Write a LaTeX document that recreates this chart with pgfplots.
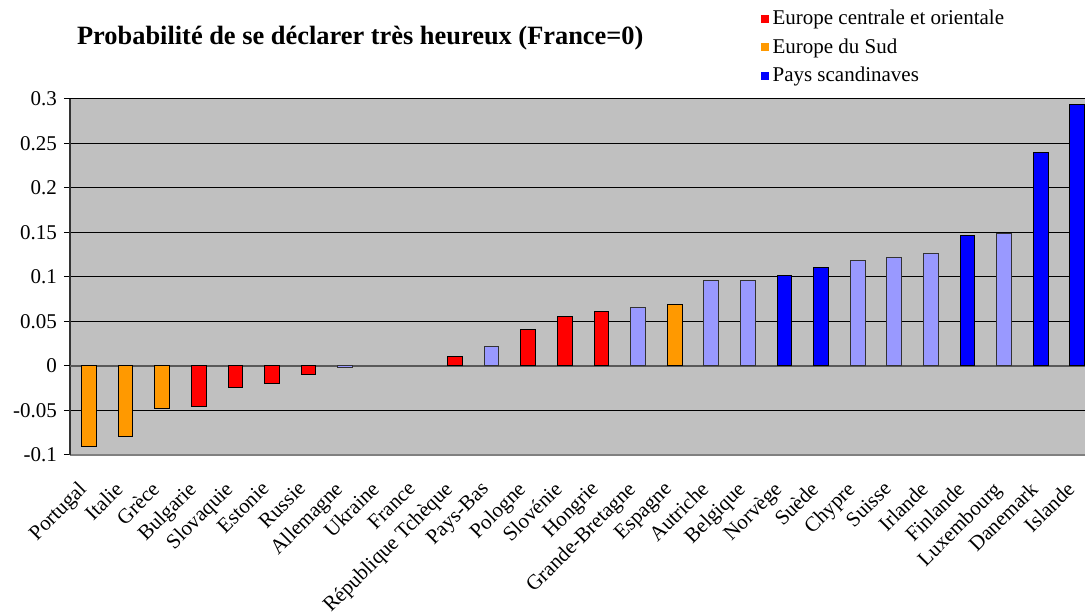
\documentclass[border=0pt]{standalone}
\usepackage{fontspec}
\setmainfont{Liberation Serif}
\usepackage{pgfplots}
\pgfplotsset{compat=1.18}
\definecolor{xred}{RGB}{255,0,0}
\definecolor{xorange}{RGB}{255,153,0}
\definecolor{xblue}{RGB}{0,0,255}
\definecolor{xlav}{RGB}{153,153,255}
\definecolor{bggrey}{RGB}{192,192,192}
\pgfplotsset{sq legend/.style={legend image code/.code={\fill[##1,draw=none] (0pt,-2pt) rectangle (4pt,2pt);}}}
\begin{document}
\begin{tikzpicture}
\begin{axis}[
  scale only axis, width=507.5pt, height=178pt,
  xmin=-0.52, xmax=27.21, ymin=-0.1, ymax=0.3,
  ybar, bar width=0.4, bar shift=0pt,
  axis background/.style={fill=bggrey},
  axis x line*=bottom, axis y line*=left,
  x axis line style={draw=gray, line width=0.6pt, -},
  y axis line style={draw=black!80, line width=0.6pt, -},
  ymajorgrids, grid style={black, line width=0.5pt},
  extra y ticks={0}, extra y tick labels={0},
  extra y tick style={grid style={gray!70!black, line width=0.6pt}},
  ytick={-0.1,-0.05,0.05,0.1,0.15,0.2,0.25,0.3},
  yticklabels={-0.1,-0.05,0.05,0.1,0.15,0.2,0.25,0.3},
  ytick style={black, line width=0.5pt}, tick align=outside, major tick length=3pt,
  xtick={0,...,27},
  xticklabels={Portugal,Italie,Grèce,Bulgarie,Slovaquie,Estonie,Russie,Allemagne,Ukraine,France,République Tchèque,Pays-Bas,Pologne,Slovénie,Hongrie,Grande-Bretagne,Espagne,Autriche,Belgique,Norvège,Suède,Chypre,Suisse,Irlande,Finlande,Luxembourg,Danemark,Islande},
  x tick style={draw=none},
  xticklabel style={xshift=-6pt, yshift=-8pt, rotate=45, anchor=north east, inner sep=1pt},
  tick label style={font=\fontsize{10.5}{12}\selectfont},
  title={Probabilité de se déclarer très heureux (France=0)},
  title style={at={(axis description cs:0,1)}, anchor=west, xshift=0pt, yshift=24.5pt, font=\bfseries\fontsize{13.2}{15}\selectfont},
  legend style={at={(axis description cs:0.68,1)}, anchor=south west, yshift=5pt, draw=none, fill=none, inner sep=0pt, font=\fontsize{10.5}{12}\selectfont, row sep=1.5pt, cells={anchor=west}},
]
\addplot[fill=xred, draw=black, line width=0.5pt, sq legend] coordinates {
 (3,-0.046) (4,-0.024) (5,-0.020) (6,-0.009) (10,0.011) (12,0.041) (13,0.056) (14,0.061)};
\addlegendentry{Europe centrale et orientale}
\addplot[fill=xorange, draw=black, line width=0.5pt, sq legend] coordinates {
 (0,-0.090) (1,-0.079) (2,-0.048) (16,0.069)};
\addlegendentry{Europe du Sud}
\addplot[fill=xblue, draw=black, line width=0.5pt, sq legend] coordinates {
 (19,0.102) (20,0.111) (24,0.147) (26,0.240) (27,0.294)};
\addlegendentry{Pays scandinaves}
\addplot[fill=xlav, draw=black!80, line width=0.5pt, forget plot] coordinates {
 (7,-0.002) (11,0.022) (15,0.066) (17,0.096) (18,0.096) (21,0.119) (22,0.122) (23,0.126) (25,0.149)};
\coordinate (SW) at (rel axis cs:0,0);
\coordinate (NE) at (rel axis cs:1,1);
\end{axis}
\pgfresetboundingbox
\path[use as bounding box] ([xshift=-35pt,yshift=-79.5pt]SW) rectangle ([yshift=49.5pt]NE);
\end{tikzpicture}
\end{document}
